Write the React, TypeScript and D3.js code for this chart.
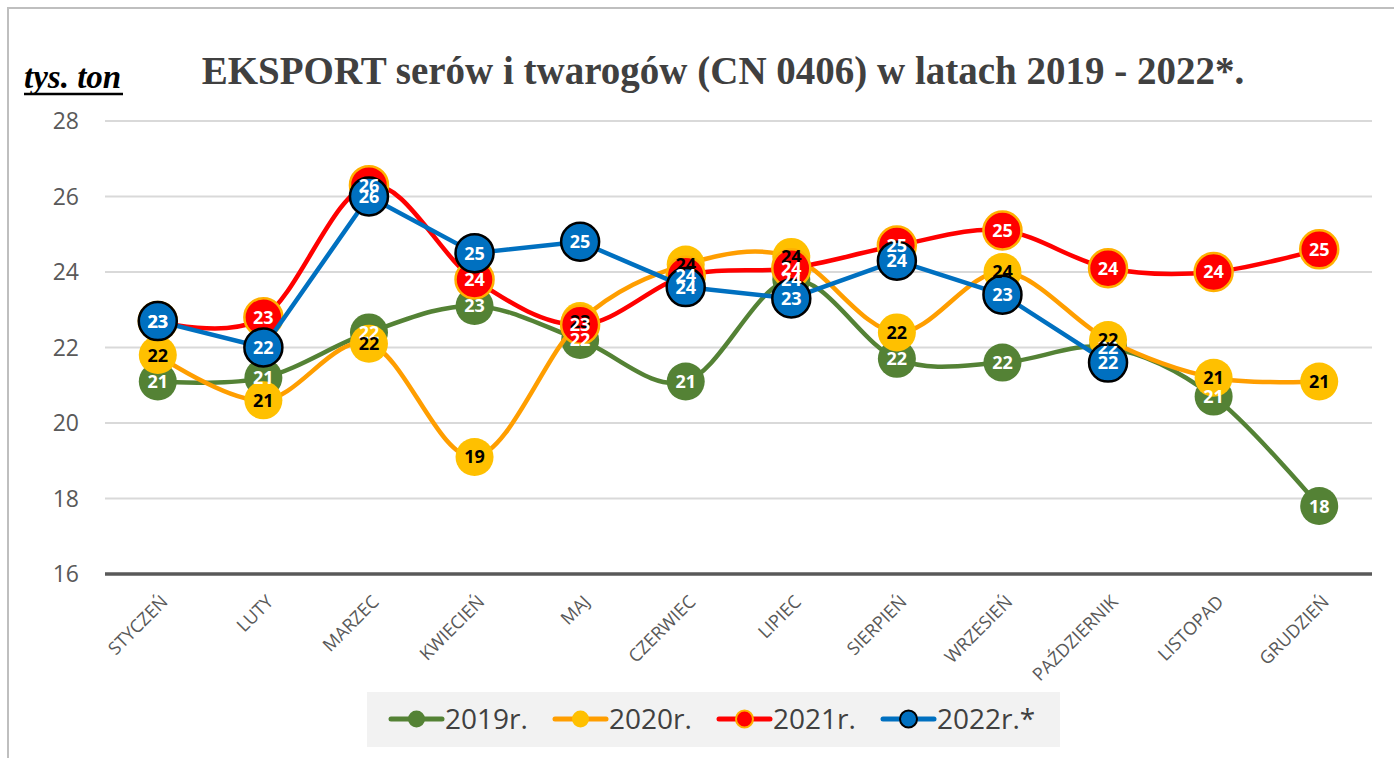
import React, { useEffect, useRef } from 'react';
import * as d3 from 'd3';

const MONTHS = ['STYCZEŃ', 'LUTY', 'MARZEC', 'KWIECIEŃ', 'MAJ', 'CZERWIEC', 'LIPIEC', 'SIERPIEŃ', 'WRZESIEŃ', 'PAŹDZIERNIK', 'LISTOPAD', 'GRUDZIEŃ'];
const Y_TICKS = [16, 18, 20, 22, 24, 26, 28];

const V2019 = [21.1, 21.2, 22.4, 23.1, 22.2, 21.1, 23.8, 21.7, 21.6, 22.0, 20.7, 17.8];
const V2020 = [21.8, 20.6, 22.1, 19.1, 22.7, 24.2, 24.4, 22.4, 24.0, 22.2, 21.2, 21.1];
const V2021 = [22.7, 22.8, 26.3, 23.8, 22.6, 23.9, 24.1, 24.7, 25.1, 24.1, 24.0, 24.6];
const V2022: (number | null)[] = [22.7, 22.0, 26.0, 24.5, 24.8, 23.6, 23.3, 24.3, 23.4, 21.6, null, null];

const SERIES = [
  { name: '2019r.', values: V2019, line: '#548235', fill: '#548235', stroke: 'none', text: '#ffffff', smooth: true },
  { name: '2020r.', values: V2020, line: '#ff9e00', fill: '#ffc000', stroke: 'none', text: '#000000', smooth: true },
  { name: '2021r.', values: V2021, line: '#ff0000', fill: '#ff0000', stroke: '#ffb000', text: '#ffffff', smooth: true },
  { name: '2022r.*', values: V2022, line: '#0070c0', fill: '#0070c0', stroke: '#000000', text: '#ffffff', smooth: false },
];

const W = 1394;
const H = 758;
const FONT = '"Open Sans", "DejaVu Sans", sans-serif';

export default function App() {
  const ref = useRef<SVGSVGElement>(null);

  useEffect(() => {
    if (!ref.current) return;
    const svg = d3.select(ref.current);
    svg.selectAll('*').remove();

    // chart frame
    svg.append('rect').attr('x', 0).attr('y', 0).attr('width', W).attr('height', H).attr('fill', '#ffffff');
    svg.append('rect')
      .attr('x', 8).attr('y', 8).attr('width', W + 20).attr('height', H + 20)
      .attr('fill', 'none').attr('stroke', '#bfbfbf').attr('stroke-width', 2);

    const x = d3.scaleBand<string>().domain(MONTHS).range([105, 1372]);
    const cx = (m: string) => (x(m) ?? 0) + x.bandwidth() / 2;
    const y = d3.scaleLinear().domain([16, 28]).range([574, 121]);

    // title
    svg.append('text')
      .attr('x', 723).attr('y', 84)
      .attr('text-anchor', 'middle')
      .style('font-family', '"Liberation Serif", "Times New Roman", serif')
      .style('font-weight', 'bold')
      .style('font-size', '39px')
      .attr('fill', '#404040')
      .text('EKSPORT serów i twarogów (CN 0406) w latach 2019 - 2022*.');

    // unit
    svg.append('text')
      .attr('x', 24).attr('y', 88)
      .style('font-family', '"Liberation Serif", "Times New Roman", serif')
      .style('font-weight', 'bold')
      .style('font-style', 'italic')
      .style('font-size', '33px')
      .attr('fill', '#000000')
      .text('tys. ton');
    svg.append('line')
      .attr('x1', 24).attr('x2', 123).attr('y1', 94).attr('y2', 94)
      .attr('stroke', '#000000').attr('stroke-width', 2.5);

    // grid + y ticks
    const grid = svg.append('g');
    Y_TICKS.forEach((t) => {
      grid.append('line')
        .attr('x1', 105).attr('x2', 1372)
        .attr('y1', y(t)).attr('y2', y(t))
        .attr('stroke', t === 16 ? '#595959' : '#d9d9d9')
        .attr('stroke-width', t === 16 ? 3.5 : 2);
      grid.append('text')
        .attr('x', 79).attr('y', y(t))
        .attr('dy', '0.36em')
        .attr('text-anchor', 'end')
        .style('font-family', FONT)
        .style('font-size', '23px')
        .attr('fill', '#595959')
        .text(t);
    });

    // x labels
    const xl = svg.append('g');
    MONTHS.forEach((m) => {
      xl.append('text')
        .attr('transform', `translate(${cx(m) + 11},${603}) rotate(-45)`)
        .attr('text-anchor', 'end')
        .style('font-family', FONT)
        .style('font-size', '18px')
        .attr('fill', '#595959')
        .text(m);
    });

    // series
    const plot = svg.append('g');
    SERIES.forEach((s) => {
      const pts = s.values
        .map((v, i) => ({ m: MONTHS[i], v }))
        .filter((d) => d.v !== null) as { m: string; v: number }[];
      const line = d3.line<{ m: string; v: number }>()
        .x((d) => cx(d.m))
        .y((d) => y(d.v))
        .curve(s.smooth ? d3.curveCardinal.tension(0) : d3.curveLinear);
      plot.append('path')
        .attr('d', line(pts))
        .attr('fill', 'none')
        .attr('stroke', s.line)
        .attr('stroke-width', 4.5)
        .attr('stroke-linejoin', 'round');
      plot.selectAll(null)
        .data(pts)
        .enter()
        .append('circle')
        .attr('cx', (d) => cx(d.m))
        .attr('cy', (d) => y(d.v))
        .attr('r', 19)
        .attr('fill', s.fill)
        .attr('stroke', s.stroke)
        .attr('stroke-width', s.stroke === 'none' ? 0 : 2.5);
    });

    // data labels on top of every marker
    const labels = svg.append('g');
    SERIES.forEach((s) => {
      s.values.forEach((v, i) => {
        if (v === null) return;
        labels.append('text')
          .attr('x', cx(MONTHS[i]))
          .attr('y', y(v))
          .attr('dy', '0.36em')
          .attr('text-anchor', 'middle')
          .style('font-family', FONT)
          .style('font-weight', 'bold')
          .style('font-size', '18px')
          .attr('fill', s.text)
          .text(d3.format('.0f')(v));
      });
    });

    // legend
    const lg = svg.append('g');
    lg.append('rect')
      .attr('x', 367).attr('y', 692).attr('width', 693).attr('height', 55)
      .attr('fill', '#f2f2f2');
    SERIES.forEach((s, i) => {
      const lx = 391 + i * 164;
      const ly = 719;
      lg.append('line')
        .attr('x1', lx).attr('x2', lx + 51).attr('y1', ly).attr('y2', ly)
        .attr('stroke', s.line).attr('stroke-width', 5).attr('stroke-linecap', 'round');
      lg.append('circle')
        .attr('cx', lx + 25.5).attr('cy', ly).attr('r', 8.5)
        .attr('fill', s.fill)
        .attr('stroke', s.stroke)
        .attr('stroke-width', s.stroke === 'none' ? 0 : 2);
      lg.append('text')
        .attr('x', lx + 54).attr('y', ly)
        .attr('dy', '0.36em')
        .style('font-family', FONT)
        .style('font-size', '28px')
        .attr('fill', '#404040')
        .text(s.name);
    });
  }, []);

  return (
    <svg
      ref={ref}
      width={W}
      height={H}
      style={{ position: 'absolute', left: 0, top: 0, display: 'block' }}
    />
  );
}
